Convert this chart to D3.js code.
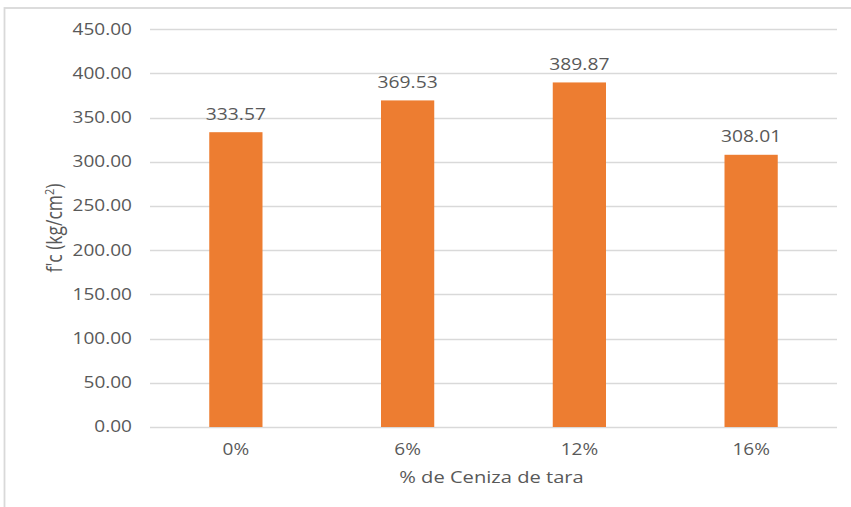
<!DOCTYPE html>
<html>
<head>
<meta charset="utf-8">
<script src="https://cdn.jsdelivr.net/npm/d3@7"></script>
<style>
  html, body { margin: 0; padding: 0; background: #fff; }
  svg { display: block; }
  text { font-family: "Open Sans", "Noto Sans", sans-serif; fill: #595959; }
</style>
</head>
<body>
<svg id="chart" width="851" height="507"></svg>
<script>
// Compressive strength by ash content
const categories = ["0%", "6%", "12%", "16%"];
const values = [333.57, 369.53, 389.87, 308.01];
const yTicks = [0, 50, 100, 150, 200, 250, 300, 350, 400, 450];
const xTitle = "% de Ceniza de tara";

const W = 851, H = 507;
const plot = { left: 150, right: 837, top: 29.3, bottom: 427 };
const stretch = 1.22;   // wide glyph look

const svg = d3.select("#chart");

// chart frame
svg.append("rect")
  .attr("x", 4.5).attr("y", 8)
  .attr("width", W + 20).attr("height", H + 20)
  .attr("fill", "none")
  .attr("stroke", "#d9d9d9")
  .attr("stroke-width", 1.8);

const x = d3.scaleBand().domain(categories).range([plot.left, plot.right]).padding(0);
const y = d3.scaleLinear().domain([0, 450]).range([plot.bottom, plot.top]);
const barW = x.step() * 0.31;

// helper: horizontally widened text anchored at (px, py)
function label(parent, px, py, str, size, anchor) {
  const g = parent.append("g").attr("transform", `translate(${px},${py}) scale(${stretch},1)`);
  return g.append("text")
    .attr("text-anchor", anchor)
    .attr("font-size", size)
    .text(str);
}

// gridlines
svg.append("g").selectAll("line").data(yTicks).join("line")
  .attr("x1", plot.left).attr("x2", plot.right)
  .attr("y1", d => Math.round(y(d)) + 0.5).attr("y2", d => Math.round(y(d)) + 0.5)
  .attr("stroke", "#d9d9d9").attr("stroke-width", 1.3);

// y tick labels
const yLab = svg.append("g");
yTicks.forEach(v => label(yLab, 132, y(v) + 5.3, d3.format(".2f")(v), 15.6, "end"));

// bars
svg.append("g").selectAll("rect").data(values).join("rect")
  .attr("x", (d, i) => x(categories[i]) + x.bandwidth() / 2 - barW / 2)
  .attr("width", barW)
  .attr("y", d => y(d))
  .attr("height", d => y(0) - y(d))
  .attr("fill", "#ed7d31");

// value labels
const vLab = svg.append("g");
values.forEach((v, i) => label(vLab, x(categories[i]) + x.bandwidth() / 2, y(v) - 12.5, d3.format(".2f")(v), 15.8, "middle"));

// category labels
const cLab = svg.append("g");
categories.forEach(c => label(cLab, x(c) + x.bandwidth() / 2, 455, c, 15.6, "middle"));

// x axis title
label(svg, (plot.left + plot.right) / 2 - 2, 483, xTitle, 16.5, "middle");

// y axis title (rotated, widened across the glyph height)
const yt = svg.append("g")
  .attr("transform", "translate(62,228) scale(1.2,1) rotate(-90)")
  .append("text")
  .attr("text-anchor", "middle")
  .attr("font-size", 17.5);
yt.append("tspan").text("f'c (kg/cm");
yt.append("tspan").attr("font-size", 11).attr("dy", -7).text("2");
yt.append("tspan").attr("dy", 7).text(")");
</script>
</body>
</html>
